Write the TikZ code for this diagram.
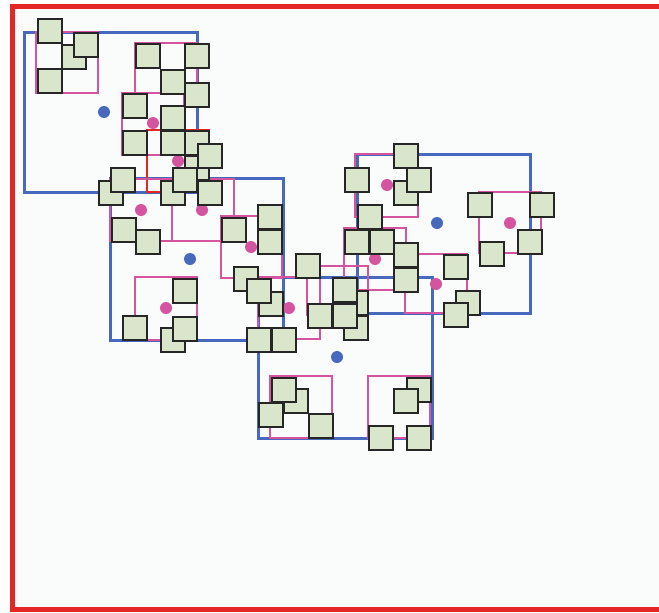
\documentclass[tikz,border=0pt]{standalone}
\usepackage{tikz}
\usetikzlibrary{positioning}

\definecolor{bluebox}{RGB}{72,104,190}
\definecolor{pinkbox}{RGB}{212,84,160}
\definecolor{redframe}{RGB}{228,38,38}
\definecolor{leafgreen}{RGB}{218,230,203}
\definecolor{paper}{RGB}{250,252,252}

\begin{document}
\begin{tikzpicture}[x=1pt, y=-1pt,
    sq/.style={draw=black!85, fill=leafgreen, line width=1.5pt, rectangle, minimum size=24pt, inner sep=0pt, anchor=north west},
    bluedot/.style={circle, fill=bluebox, minimum size=12pt, inner sep=0pt},
    pinkdot/.style={circle, fill=pinkbox, minimum size=12pt, inner sep=0pt},
    bluerect/.style={draw=bluebox, line width=3pt},
    pinkrect/.style={draw=pinkbox, line width=2.5pt}]

    \useasboundingbox (0,0) rectangle (659,613);
    \fill[white] (0,0) rectangle (659,613);
    % Root frame
    \draw[draw=redframe, fill=paper, line width=5pt] (12,6) rectangle (672,609);

    % Level 1: blue boxes
    \draw[bluerect] (24,32) rectangle (197,192);
    \draw[bluerect] (110,178) rectangle (283,340);
    \draw[bluerect] (357,154) rectangle (530,313);
    \draw[bluerect] (258,277) rectangle (432,438);

    % Level 2: pink boxes
    \draw[pinkrect] (36,32) rectangle (98,93);
    \draw[pinkrect] (135,43) rectangle (197,93);
    \draw[pinkrect] (122,93) rectangle (184,155);
    \draw[draw=redframe, line width=2.5pt] (147,130) rectangle (209,192);
    \draw[pinkrect] (110,179) rectangle (172,241);
    \draw[pinkrect] (172,179) rectangle (234,241);
    \draw[pinkrect] (221,216) rectangle (282,278);
    \draw[pinkrect] (135,277) rectangle (197,340);
    \draw[pinkrect] (258,277) rectangle (320,339);
    \draw[pinkrect] (355,154) rectangle (418,217);
    \draw[pinkrect] (479,192) rectangle (541,253);
    \draw[pinkrect] (344,228) rectangle (406,290);
    \draw[pinkrect] (405,254) rectangle (467,313);
    \draw[pinkrect] (307,266) rectangle (368,315);
    \draw[pinkrect] (270,376) rectangle (332,438);
    \draw[pinkrect] (368,376) rectangle (430,438);

    % Centres
    \node[bluedot] (c1) at (104,112) {};
    \node[bluedot] (c2) at (190,259) {};
    \node[bluedot] (c3) at (437,223) {};
    \node[bluedot] (c4) at (337,357) {};
    \node[pinkdot] (m1) at (153,123) {};
    \node[pinkdot] (m2) at (178,161) {};
    \node[pinkdot] (m3) at (141,210) {};
    \node[pinkdot] (m4) at (202,210) {};
    \node[pinkdot] (m5) at (251,247) {};
    \node[pinkdot] (m6) at (166,308) {};
    \node[pinkdot] (m7) at (289,308) {};
    \node[pinkdot] (m8) at (387,185) {};
    \node[pinkdot] (m9) at (510,223) {};
    \node[pinkdot] (m10) at (375,259) {};
    \node[pinkdot] (m11) at (436,284) {};

    % Leaves, top left
    \node[sq] (s1) at (37,18) {};
    \node[sq] (s3) at (61,44) {};
    \node[sq] (s2) at (73,32) {};
    \node[sq] (s4) at (37,68) {};
    \node[sq] (s5) at (135,43) {};
    \node[sq] (s6) at (184,43) {};
    \node[sq] (s7) at (160,69) {};
    \node[sq] (s8) at (184,82) {};
    \node[sq] (s9) at (122,93) {};
    \node[sq] (s10) at (160,105) {};
    \node[sq] (s11) at (122,130) {};
    \node[sq] (s12) at (160,130) {};
    \node[sq] (s13) at (184,130) {};
    \node[sq] (s15) at (184,155) {};
    \node[sq] (s14) at (197,143) {};
    \node[sq] (s17) at (98,180) {};
    \node[sq] (s16) at (110,167) {};
    \node[sq] (s19) at (160,180) {};
    \node[sq] (s18) at (172,167) {};
    \node[sq] (s20) at (197,180) {};

    % Leaves, left middle
    \node[sq] (s22) at (111,217) {};
    \node[sq] (s23) at (135,229) {};
    \node[sq] (s24) at (221,217) {};
    \node[sq] (s25) at (257,204) {};
    \node[sq] (s26) at (257,229) {};
    \node[sq] (s27) at (233,266) {};
    \node[sq] (s29) at (258,291) {};
    \node[sq] (s28) at (246,278) {};
    \node[sq] (s30) at (172,278) {};
    \node[sq] (s32) at (160,327) {};
    \node[sq] (s31) at (172,316) {};
    \node[sq] (s33) at (122,315) {};
    \node[sq] (s34) at (246,327) {};
    \node[sq] (s35) at (271,327) {};

    % Leaves, centre
    \node[sq] (s36) at (295,253) {};
    \node[sq] (s40) at (343,290) {};
    \node[sq] (s41) at (343,315) {};
    \node[sq] (s37) at (307,303) {};
    \node[sq] (s38) at (332,277) {};
    \node[sq] (s39) at (332,303) {};

    % Leaves, right
    \node[sq] (s42) at (393,143) {};
    \node[sq] (s43) at (344,167) {};
    \node[sq] (s45) at (393,180) {};
    \node[sq] (s44) at (406,167) {};
    \node[sq] (s46) at (357,204) {};
    \node[sq] (s47) at (344,229) {};
    \node[sq] (s48) at (369,229) {};
    \node[sq] (s49) at (393,242) {};
    \node[sq] (s50) at (393,267) {};
    \node[sq] (s51) at (443,254) {};
    \node[sq] (s53) at (455,290) {};
    \node[sq] (s52) at (443,302) {};
    \node[sq] (s54) at (467,192) {};
    \node[sq] (s55) at (479,241) {};
    \node[sq] (s56) at (529,192) {};
    \node[sq] (s57) at (517,229) {};

    % Leaves, bottom
    \node[sq] (s60) at (283,388) {};
    \node[sq] (s59) at (271,377) {};
    \node[sq] (s61) at (258,402) {};
    \node[sq] (s62) at (308,413) {};
    \node[sq] (s63) at (406,377) {};
    \node[sq] (s64) at (393,388) {};
    \node[sq] (s65) at (368,425) {};
    \node[sq] (s66) at (406,425) {};
\end{tikzpicture}
\end{document}
